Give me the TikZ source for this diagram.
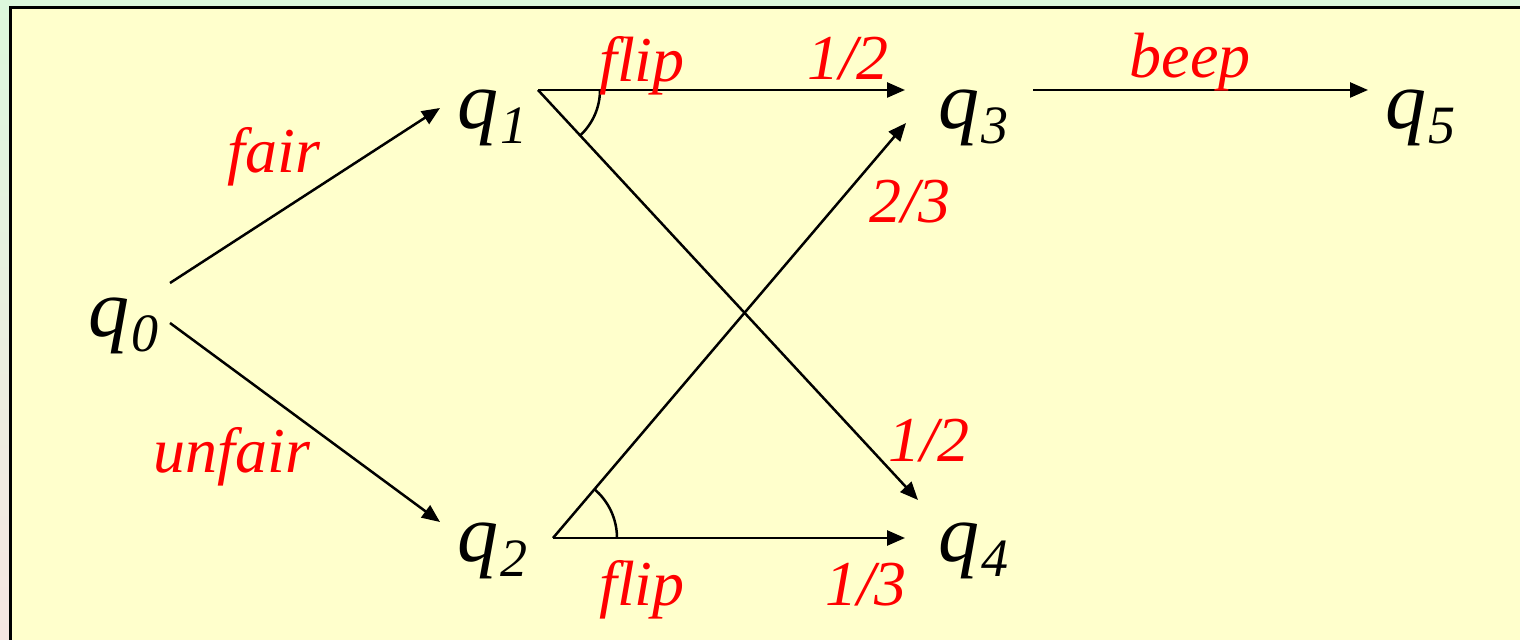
\documentclass[tikz,border=0pt]{standalone}
\usepackage{fontspec}
\setmainfont{Liberation Serif}
\usetikzlibrary{arrows.meta,calc}
\definecolor{bgyellow}{HTML}{FFFFCC}
\definecolor{outergreen}{HTML}{DDF8DD}
\definecolor{outerpink}{HTML}{F6E6E2}
\definecolor{lblred}{HTML}{FF0000}
\newcommand{\stname}[1]{q\kern1pt\raisebox{-7.5pt}{\fontsize{27}{27}\selectfont #1}}
\tikzset{
  state/.style={anchor=base west, inner sep=0pt, font=\fontsize{41}{41}\selectfont\itshape},
  lbl/.style={anchor=base, inner sep=0pt, text=lblred, font=\fontsize{32}{32}\selectfont\itshape},
  edge/.style={line width=1.25pt, -{Triangle[length=9pt,width=7.5pt]}},
  plain/.style={line width=1.25pt},
}
\begin{document}
\begin{tikzpicture}[x=0.5pt,y=-0.5pt]
\useasboundingbox (0,0) rectangle (1520,640);
\shade[top color=outergreen, bottom color=outerpink] (0,0) rectangle (1520,640);
\fill[bgyellow] (10,8) rectangle (1530,650);
\draw[line width=1.5pt] (10,650) -- (10,8) -- (1530,8);
% states
\node[state] (q0) at (88,337) {\stname{0}};
\node[state] (q1) at (457,129) {\stname{1}};
\node[state] (q2) at (457,561) {\stname{2}};
\node[state] (q3) at (938,129) {\stname{3}};
\node[state] (q4) at (938,561) {\stname{4}};
\node[state] (q5) at (1385,129) {\stname{5}};
% connector end points
\coordinate (q0a) at (170,283);
\coordinate (q0b) at (170,323);
\coordinate (q1in) at (440,108);
\coordinate (q2in) at (440,522);
\coordinate (q1out) at (538,90);
\coordinate (q2out) at (553,538);
\coordinate (q3inA) at (905,90);
\coordinate (q3inB) at (906,123);
\coordinate (q4inA) at (918,500);
\coordinate (q4inB) at (905,538);
\coordinate (q3out) at (1033,90);
\coordinate (q5in) at (1368,90);
% connectors
\draw[edge] (q0a) -- (q1in);
\draw[edge] (q0b) -- (q2in);
\draw[edge] (q1out) -- (q3inA);
\draw[edge] (q1out) -- (q4inA);
\draw[edge] (q2out) -- (q3inB);
\draw[edge] (q2out) -- (q4inB);
\draw[edge] (q3out) -- (q5in);
% angle arcs
\draw[plain] ($(q1out)+(62,0)$) arc[start angle=0, end angle=47.2, radius=62];
\draw[plain] ($(q2out)+(64,0)$) arc[start angle=0, end angle=-49.8, radius=64];
% labels
\node[lbl] (lfair) at (274,173) {fair};
\node[lbl] (lunfair) at (232,473) {unfair};
\node[lbl] (lflip1) at (642,82) {flip};
\node[lbl] (lhalf1) at (848,80) {1/2};
\node[lbl] (lbeep) at (1190,78) {beep};
\node[lbl] (ltwothird) at (910,223) {2/3};
\node[lbl] (lhalf2) at (929,462) {1/2};
\node[lbl] (lflip2) at (642,605) {flip};
\node[lbl] (lthird) at (866,605) {1/3};
\end{tikzpicture}
\end{document}
